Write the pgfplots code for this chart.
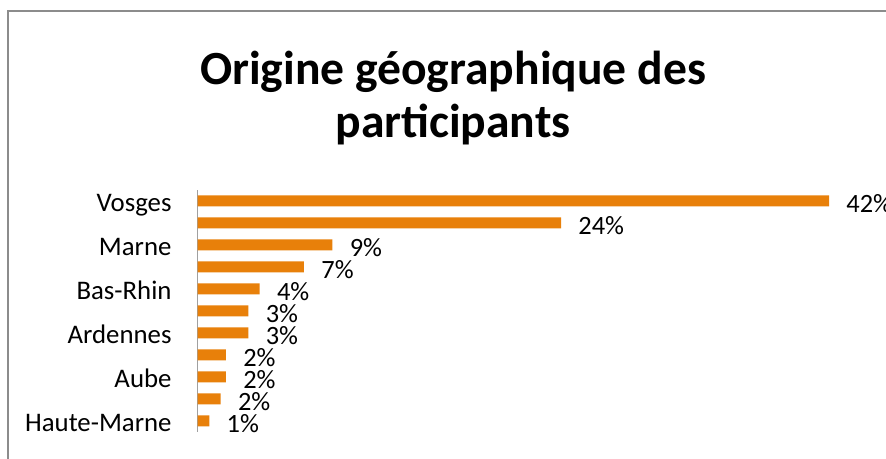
\documentclass[border=0pt]{standalone}
\usepackage{pgfplots}
\pgfplotsset{compat=1.18}
\usepackage{pgfplotstable}
\usepackage{fontspec}
\setmainfont{Carlito}
\definecolor{barorange}{HTML}{E8800A}
\definecolor{framegray}{HTML}{8C8C8C}
\definecolor{axisgray}{HTML}{A0A0A0}
\pgfplotstableread{
y val lab
10 42.0 42
9 24.17 24
8 8.96 9
7 7.07 7
6 4.12 4
5 3.37 3
4 3.37 3
3 1.88 2
2 1.88 2
1 1.53 2
0 0.77 1
}\datatable
\begin{document}
\begin{tikzpicture}
\useasboundingbox (0,0) rectangle (443pt,229.5pt);
\fill[white] (0,0) rectangle (443pt,229.5pt);
\draw[framegray, line width=0.75pt] (4pt,0) -- (4pt,224pt) -- (443pt,224pt);
\node[anchor=base, inner sep=0pt, font=\fontsize{23.8}{28}\selectfont\bfseries] at (226.5pt,187pt) {Origine géographique des};
\node[anchor=base, inner sep=0pt, font=\fontsize{23.8}{28}\selectfont\bfseries] at (226.5pt,160.5pt) {participants};
\begin{axis}[
  at={(98.85pt,13.5pt)}, anchor=south west,
  scale only axis, width=315.65pt, height=121pt,
  xbar, bar width=5.5pt,
  xmin=0, xmax=42, ymin=-0.5, ymax=10.5,
  hide x axis,
  axis y line*=left,
  y axis line style={-, axisgray, line width=0.75pt},
  ytick={10,8,6,4,2,0},
  yticklabels={Vosges,Marne,Bas-Rhin,Ardennes,Aube,Haute-Marne},
  major tick length=0pt,
  yticklabel style={anchor=base east, inner sep=0pt, xshift=-12.9pt, yshift=-5.5pt, font=\fontsize{13.4}{16}\selectfont},
  point meta=explicit symbolic,
  nodes near coords={\pgfplotspointmeta\%},
  nodes near coords style={anchor=base west, inner sep=0pt, xshift=8.5pt, yshift=-6pt, font=\fontsize{13.2}{16}\selectfont, text=black},
  clip=false,
]
\addplot[fill=barorange, draw=none] table[x=val, y=y, meta=lab] {\datatable};
\end{axis}
\end{tikzpicture}
\end{document}
